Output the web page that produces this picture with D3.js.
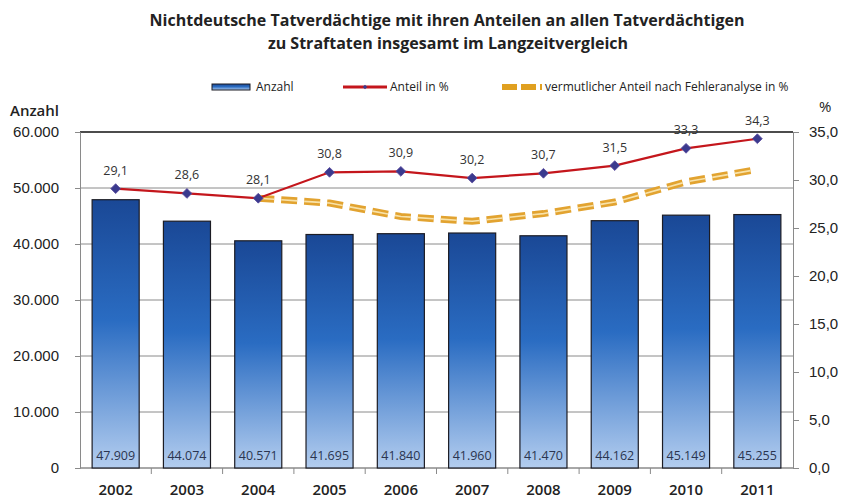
<!DOCTYPE html>
<html>
<head>
<meta charset="utf-8">
<script src="https://cdn.jsdelivr.net/npm/d3@7"></script>
<style>
  body { margin: 0; background: #fff; }
  svg { font-family: "Open Sans", sans-serif; display: block; }
</style>
</head>
<body>
<div id="chart"></div>
<script>
// data
var years = ['2002', '2003', '2004', '2005', '2006', '2007', '2008', '2009', '2010', '2011'];
var anzahl = [47909, 44074, 40571, 41695, 41840, 41960, 41470, 44162, 45149, 45255];
var anteil = [29.1, 28.6, 28.1, 30.8, 30.9, 30.2, 30.7, 31.5, 33.3, 34.3];
var vermutlich = [null, null, 28.1, 27.6, 26.2, 25.7, 26.5, 27.7, 29.8, 31.1];
var leftTicks = [0, 10000, 20000, 30000, 40000, 50000, 60000];
var rightTicks = [0, 5, 10, 15, 20, 25, 30, 35];

var svgWidth = 845;
var svgHeight = 496;
var margin = { top: 132, right: 52, bottom: 28, left: 80 };
var innerWidth = svgWidth - margin.left - margin.right;
var innerHeight = svgHeight - margin.top - margin.bottom;

var de = d3.formatLocale({ decimal: ',', thousands: '.', grouping: [3], currency: ['', ' €'] });
var fmtInt = de.format(',d');
var fmtPct = de.format('.1f');

var svg = d3.select('#chart')
  .append('svg')
  .attr('width', svgWidth)
  .attr('height', svgHeight);

var defs = svg.append('defs');
var grad = defs.append('linearGradient')
  .attr('id', 'barGrad')
  .attr('x1', 0).attr('y1', 0).attr('x2', 0).attr('y2', 1);
grad.append('stop').attr('offset', '0%').attr('stop-color', '#1a4896');
grad.append('stop').attr('offset', '45%').attr('stop-color', '#2a6cc2');
grad.append('stop').attr('offset', '100%').attr('stop-color', '#b3cdef');

// title
svg.append('text')
  .attr('x', 447).attr('y', 26)
  .attr('text-anchor', 'middle')
  .style('font-size', '16px').style('font-weight', 'bold').style('fill', '#222')
  .text('Nichtdeutsche Tatverdächtige mit ihren Anteilen an allen Tatverdächtigen');
svg.append('text')
  .attr('x', 448).attr('y', 49)
  .attr('text-anchor', 'middle')
  .style('font-size', '16px').style('font-weight', 'bold').style('fill', '#222')
  .text('zu Straftaten insgesamt im Langzeitvergleich');

var g = svg.append('g')
  .attr('transform', 'translate(' + margin.left + ',' + margin.top + ')');

var xScale = d3.scaleBand()
  .domain(years)
  .range([0, innerWidth])
  .paddingInner(0.34)
  .paddingOuter(0.17);

var yScale = d3.scaleLinear()
  .domain([0, 60000])
  .range([innerHeight, 0]);

var y2Scale = d3.scaleLinear()
  .domain([0, 35])
  .range([innerHeight, 0]);

// gridlines
g.selectAll('.grid')
  .data(leftTicks)
  .enter().append('line')
  .attr('x1', 0).attr('x2', innerWidth)
  .attr('y1', d => yScale(d)).attr('y2', d => yScale(d))
  .attr('stroke', d => d === 60000 ? '#111' : '#8a8a8a')
  .attr('stroke-width', d => d === 60000 ? 1.3 : 1);

// left axis
var leftAxis = g.append('g')
  .call(d3.axisLeft(yScale).tickValues(leftTicks).tickFormat(d => d === 0 ? '0' : fmtInt(d)).tickSize(5).tickPadding(16));
leftAxis.select('.domain').attr('stroke', '#8a8a8a');
leftAxis.selectAll('.tick line').attr('stroke', '#8a8a8a');
leftAxis.selectAll('text').style('font-size', '15px').style('fill', '#222').attr('font-family', null);

// right axis
var rightAxis = g.append('g')
  .attr('transform', 'translate(' + innerWidth + ',0)')
  .call(d3.axisRight(y2Scale).tickValues(rightTicks).tickFormat(fmtPct).tickSize(6).tickPadding(10));
rightAxis.select('.domain').attr('stroke', '#8a8a8a');
rightAxis.selectAll('.tick line').attr('stroke', '#8a8a8a');
rightAxis.selectAll('text').style('font-size', '15px').style('fill', '#222').attr('font-family', null);

// bottom axis with ticks between categories
var bottom = g.append('g').attr('transform', 'translate(0,' + innerHeight + ')');
bottom.append('line')
  .attr('x1', 0).attr('x2', innerWidth)
  .attr('stroke', '#8a8a8a');
bottom.selectAll('.sep')
  .data(years.slice(1))
  .enter().append('line')
  .attr('x1', d => xScale(d) - xScale.step() * xScale.paddingInner() / 2)
  .attr('x2', d => xScale(d) - xScale.step() * xScale.paddingInner() / 2)
  .attr('y1', 0).attr('y2', 6)
  .attr('stroke', '#8a8a8a');
bottom.selectAll('.year')
  .data(years)
  .enter().append('text')
  .attr('x', d => xScale(d) + xScale.bandwidth() / 2)
  .attr('y', 27)
  .attr('text-anchor', 'middle')
  .style('font-size', '15px').style('font-weight', 600).style('fill', '#222')
  .text(d => d);

// bars
g.selectAll('.bar')
  .data(anzahl)
  .enter().append('rect')
  .attr('x', (d, i) => xScale(years[i]))
  .attr('y', d => yScale(d))
  .attr('width', xScale.bandwidth())
  .attr('height', d => innerHeight - yScale(d))
  .attr('fill', 'url(#barGrad)')
  .attr('stroke', '#1c1c24')
  .attr('stroke-width', 1.2);

g.selectAll('.barLabel')
  .data(anzahl)
  .enter().append('text')
  .attr('x', (d, i) => xScale(years[i]) + xScale.bandwidth() / 2)
  .attr('y', innerHeight - 8)
  .attr('text-anchor', 'middle')
  .style('font-size', '12.5px').style('fill', '#2b3550')
  .text(d => fmtInt(d));

// dashed estimate line (double stroke)
var vPts = vermutlich.map((v, i) => ({ year: years[i], v: v })).filter(d => d.v !== null);
var vLine = d3.line()
  .x(d => xScale(d.year) + xScale.bandwidth() / 2)
  .y(d => y2Scale(d.v));
g.append('path')
  .datum(vPts)
  .attr('d', vLine)
  .attr('fill', 'none')
  .attr('stroke', '#e2a330')
  .attr('stroke-width', 7)
  .attr('stroke-dasharray', '16,7');
g.append('path')
  .datum(vPts)
  .attr('d', vLine)
  .attr('fill', 'none')
  .attr('stroke', '#f8e2a8')
  .attr('stroke-width', 1.6)
  .attr('stroke-dasharray', '16,7');

// red line with markers
var aPts = anteil.map((v, i) => ({ year: years[i], v: v }));
var aLine = d3.line()
  .x(d => xScale(d.year) + xScale.bandwidth() / 2)
  .y(d => y2Scale(d.v));
g.append('path')
  .datum(aPts)
  .attr('d', aLine)
  .attr('fill', 'none')
  .attr('stroke', '#c4161c')
  .attr('stroke-width', 2.2);

g.selectAll('.marker')
  .data(aPts)
  .enter().append('path')
  .attr('d', d3.symbol().type(d3.symbolSquare).size(48))
  .attr('transform', d => 'translate(' + (xScale(d.year) + xScale.bandwidth() / 2) + ',' + y2Scale(d.v) + ') rotate(45)')
  .attr('fill', '#3a3a8e')
  .attr('stroke', '#5a4a9e')
  .attr('stroke-width', 0.8);

g.selectAll('.pctLabel')
  .data(aPts)
  .enter().append('text')
  .attr('x', d => xScale(d.year) + xScale.bandwidth() / 2)
  .attr('y', d => y2Scale(d.v) - 14)
  .attr('text-anchor', 'middle')
  .style('font-size', '12.5px').style('fill', '#333')
  .text(d => fmtPct(d.v));

// axis titles
svg.append('text')
  .attr('x', 10).attr('y', 116)
  .style('font-size', '15px').style('font-weight', 600).style('fill', '#222')
  .text('Anzahl');
svg.append('text')
  .attr('x', 819).attr('y', 112)
  .style('font-size', '15px').style('fill', '#222')
  .text('%');

// legend
var legend = svg.append('g').attr('transform', 'translate(0,87)');
legend.append('rect')
  .attr('x', 212).attr('y', -3).attr('width', 38).attr('height', 6)
  .attr('fill', 'url(#barGrad)').attr('stroke', '#1c1c24').attr('stroke-width', 1);
legend.append('text')
  .attr('x', 256).attr('y', 4)
  .style('font-size', '12px').style('fill', '#222')
  .text('Anzahl');

legend.append('line')
  .attr('x1', 343).attr('x2', 387).attr('y1', 0).attr('y2', 0)
  .attr('stroke', '#c4161c').attr('stroke-width', 3);
legend.append('path')
  .attr('d', d3.symbol().type(d3.symbolSquare).size(10))
  .attr('transform', 'translate(365,0) rotate(45)')
  .attr('fill', '#3a3a8e');
legend.append('text')
  .attr('x', 390).attr('y', 4)
  .style('font-size', '12px').style('fill', '#222')
  .text('Anteil in %');

legend.append('line')
  .attr('x1', 502).attr('x2', 542).attr('y1', 0).attr('y2', 0)
  .attr('stroke', '#e0a020').attr('stroke-width', 6)
  .attr('stroke-dasharray', '15,4');
legend.append('text')
  .attr('x', 545).attr('y', 4)
  .style('font-size', '12px').style('fill', '#222')
  .text('vermutlicher Anteil nach Fehleranalyse in %');
</script>
</body>
</html>
